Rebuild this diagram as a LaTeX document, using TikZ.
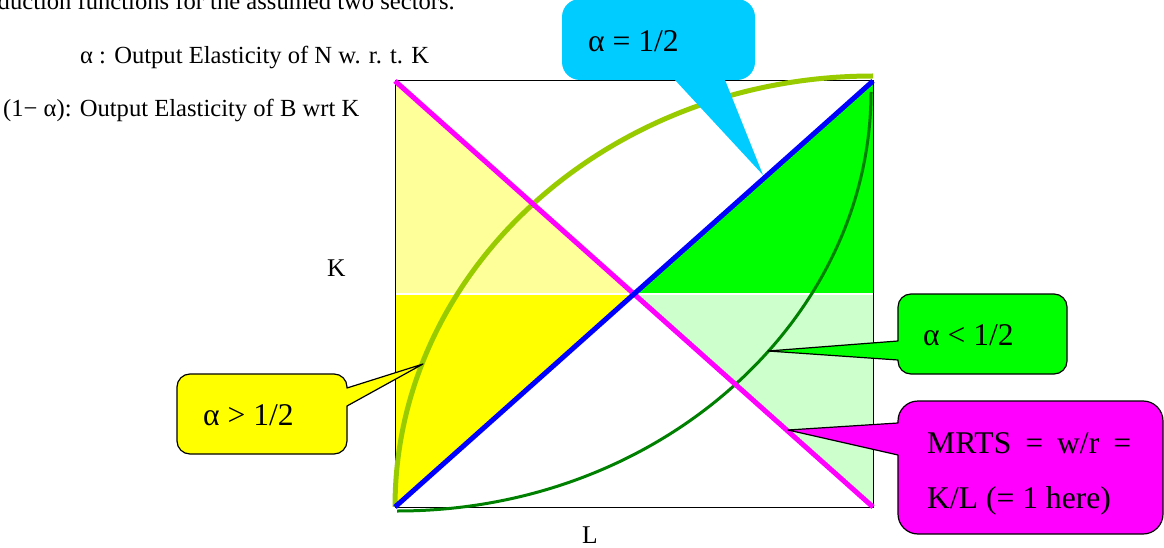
\documentclass[tikz,border=0pt]{standalone}
\usepackage{fontspec}
\setmainfont{Liberation Serif}
\definecolor{paleY}{HTML}{FFFF99}
\definecolor{brightY}{HTML}{FFFF00}
\definecolor{brightG}{HTML}{00FF00}
\definecolor{paleG}{HTML}{CCFFCC}
\definecolor{magc}{HTML}{FF00FF}
\definecolor{bluec}{HTML}{0000FF}
\definecolor{ygreen}{HTML}{99CC00}
\definecolor{dgreen}{HTML}{008000}
\definecolor{cyanc}{HTML}{00CCFF}
\tikzset{
  smalltxt/.style={inner sep=0pt,font=\fontsize{24.6}{29}\selectfont},
  axislbl/.style={inner sep=0pt,font=\fontsize{25.5}{30}\selectfont},
  calltxt/.style={inner sep=0pt,font=\fontsize{31.6}{38}\selectfont},
  callborder/.style={draw=black,line width=1.2pt,line join=round},
  thickline/.style={line width=5pt},
}
\begin{document}
\begin{tikzpicture}[x=1pt,y=-1pt]
\useasboundingbox (0,0) rectangle (1164,548);
% corner coordinates
\coordinate (TL) at (395,81);
\coordinate (TR) at (873,81);
\coordinate (BL) at (395,507);
\coordinate (BR) at (873,507);
\coordinate (ML) at (395,294);
\coordinate (MR) at (873,294);
\coordinate (C) at (634,294);
% fills
\fill[paleY] (TL) -- (C) -- (ML) -- cycle;
\fill[brightY] (ML) -- (C) -- (BL) -- cycle;
\fill[brightG] (C) -- (TR) -- (MR) -- cycle;
\fill[paleG] (C) -- (MR) -- (BR) -- cycle;
\draw[white,line width=1.5pt] (ML) -- (MR);
% box
\draw[black,line width=1pt] (TL) rectangle (BR);
% curves
\draw[ygreen,line width=5pt] (395,507) .. controls (395,269) and (609,76) .. (873,76);
\draw[dgreen,line width=3pt] (397,511) .. controls (662,511) and (871,318) .. (871,92);
% diagonals
\draw[magc,thickline] (TL) -- (BR);
\draw[bluec,thickline] (BL) -- (TR);
% callout tips
\coordinate (tipC) at (763,175);
\coordinate (tipY) at (423,364);
\coordinate (tipG) at (768,351);
\coordinate (tipM) at (788,430);
% cyan callout
\fill[cyanc] (562,40) [rounded corners=18pt] -- (562,-1) -- (755,-1) -- (755,80) [sharp corners] -- (725,80) -- (tipC) -- (675,80) [rounded corners=18pt] -- (562,80) -- cycle;
% yellow callout
\filldraw[fill=brightY,callborder] (262,374) [rounded corners=13pt] -- (347,374) [sharp corners] -- (347,388) -- (tipY) -- (347,406) [rounded corners=13pt] -- (347,454) -- (177,454) -- (177,374) -- cycle;
% green callout
\filldraw[fill=brightG,callborder] (982,294) [rounded corners=13pt] -- (1067,294) -- (1067,374) -- (898,374) [sharp corners] -- (898,360) -- (tipG) -- (898,341) [rounded corners=13pt] -- (898,294) -- cycle;
% magenta callout
\filldraw[fill=magc,callborder] (1030,401) [rounded corners=20pt] -- (1163,401) -- (1163,534) -- (898,534) [sharp corners] -- (898,455) -- (tipM) -- (898,423) [rounded corners=20pt] -- (898,401) -- cycle;
% texts
\node[smalltxt,anchor=base east] (t1) at (455,10) {duction functions for the assumed two sectors.};
\node[smalltxt,anchor=base west] (t2) at (80,64) {α : Output Elasticity of N w. r. t. K};
\node[smalltxt,anchor=base west] (t3) at (3,117) {(1− α): Output Elasticity of B wrt K};
\node[axislbl,anchor=base west] (klbl) at (327,276) {K};
\node[axislbl,anchor=base west] (llbl) at (582,543) {L};
\node[calltxt,anchor=base west] (cC) at (588,52) {α = 1/2};
\node[calltxt,anchor=base west] (cY) at (203,425) {α > 1/2};
\node[calltxt,anchor=base west] (cG) at (923,345) {α < 1/2};
\node[calltxt,anchor=base west] (cM1) at (927,453) {MRTS\hskip14pt=\hskip14pt w/r\hskip14pt=};
\node[calltxt,anchor=base west] (cM2) at (927,508) {K/L (= 1 here)};
\end{tikzpicture}
\end{document}
